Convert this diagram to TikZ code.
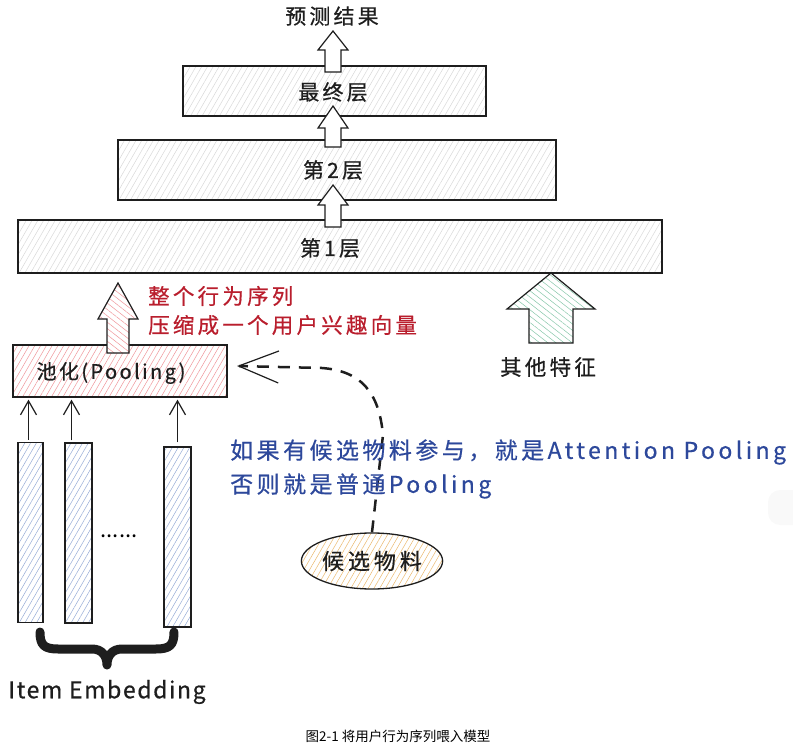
\documentclass[tikz,border=0pt]{standalone}
\usepackage{fontspec}
\newfontfamily\hand[LetterSpace=15,FakeBold=0.6]{Noto Sans CJK SC}
\newfontfamily\handp[LetterSpace=12,FakeBold=0.6]{Noto Sans CJK SC}
\newfontfamily\handl[LetterSpace=7,FakeBold=0.6]{Noto Sans CJK SC}
\newfontfamily\handw[LetterSpace=18,FakeBold=0.6]{Noto Sans CJK SC}
\newfontfamily\capfont{Noto Sans CJK SC}
\usetikzlibrary{patterns.meta,arrows.meta,shapes.geometric}
\definecolor{inkred}{RGB}{185,30,45}
\definecolor{inkblue}{RGB}{45,72,155}
\definecolor{ink}{RGB}{30,30,30}
\definecolor{barhatch}{RGB}{150,172,215}
\definecolor{greenhatch}{RGB}{135,200,170}
\definecolor{orangehatch}{RGB}{235,185,110}
\definecolor{redhatch}{RGB}{240,150,155}
\newcommand\blockup[6]{%
  \draw[#1] #2 -- ++(#5,#4) -- ++({#6-#5},0) -- ++(0,{#3-#4}) -- ++({-2*#6},0) -- ++(0,{#4-#3}) -- ++({#6-#5},0) -- cycle;}
\begin{document}
\begin{tikzpicture}[x=1pt,y=-1pt,
  hatch/.style={preaction={fill=white},pattern={Lines[angle=60,distance=5pt,line width=0.5pt]},pattern color=#1},
  bhatch/.style={preaction={fill=white},pattern={Lines[angle=-38,distance=5pt,line width=0.5pt]},pattern color=#1},
  layerbox/.style={draw=ink,line width=1.3pt,hatch=gray!30,inner sep=0pt,minimum height=#1},
  barbox/.style={draw=ink,line width=1.2pt,hatch=barhatch,inner sep=0pt,minimum width=26pt,minimum height=180pt},
  lbl/.style={font=\hand\fontsize{21}{23}\selectfont,text=ink,inner sep=0pt},
  redlbl/.style={font=\hand\fontsize{21.5}{23}\selectfont,text=inkred,inner sep=0pt,anchor=west},
  bluelbl/.style={font=\hand\fontsize{23}{25}\selectfont,text=inkblue,inner sep=0pt,anchor=west},
  thinarr/.style={draw=ink,line width=1.2pt,-{Straight Barb[length=14pt,width=16pt]}},
  blk/.style={draw=ink,line width=1.2pt,line join=miter}
]
\useasboundingbox (0,0) rectangle (793,746);
% faint artefact at right edge
\fill[gray!5,rounded corners=12pt] (768,490) rectangle (812,525);

% layer boxes
\node[layerbox=50pt,minimum width=303pt] (final) at (334.5,91) {};
\node[layerbox=60pt,minimum width=438pt] (l2) at (337,170) {};
\node[layerbox=53pt,minimum width=644pt] (l1) at (340,246.5) {};
\node[lbl] (tfinal) at (333,92) {最终层};
\node[lbl] (tl2) at (333,170) {第2层};
\node[lbl] (tl1) at (330,248) {第1层};
\node[lbl] (result) at (332,16) {预测结果};

% block arrows between layers
\coordinate (a1) at (333,31);
\coordinate (a2) at (333,106);
\coordinate (a3) at (333,185);
\blockup{blk,fill=white}{(a1)}{41}{19}{15}{8}
\blockup{blk,fill=white}{(a2)}{41}{22}{15}{8}
\blockup{blk,fill=white}{(a3)}{42}{20}{15}{8}

% pooling box
\node[draw=ink,line width=1.3pt,hatch=redhatch,inner sep=0pt,minimum width=214pt,minimum height=52pt] (pool) at (120,371) {};
\node[lbl,font=\handp\fontsize{20}{22}\selectfont] (tpool) at (111,373) {池化(Pooling)};

% red arrow
\coordinate (ar) at (118,283);
\blockup{blk,bhatch=redhatch}{(ar)}{70}{36}{20}{11}
\node[redlbl] (red1) at (148,296) {整个行为序列};
\node[redlbl] (red2) at (148,325) {压缩成一个用户兴趣向量};

% green arrow
\coordinate (ag) at (551,273);
\blockup{blk,bhatch=greenhatch}{(ag)}{70}{36}{44}{22}
\node[lbl,font=\hand\fontsize{21.5}{23}\selectfont] (other) at (548,367) {其他特征};

% embedding bars
\node[barbox,minimum width=25pt] (bar1) at (30.5,532.5) {};
\node[barbox,minimum width=27pt] (bar2) at (78.5,533) {};
\node[barbox,minimum width=27pt] (bar3) at (177.5,537) {};
\draw[thinarr,shorten <=2pt,shorten >=2pt] ([xshift=-2pt]bar1.north) -- ([xshift=-2pt]bar1.north |- pool.south);
\draw[thinarr,shorten <=2pt,shorten >=2pt] ([xshift=-7pt]bar2.north) -- ([xshift=-7pt]bar2.north |- pool.south);
\draw[thinarr,shorten <=4pt,shorten >=2pt] (bar3.north) -- (bar3.north |- pool.south);
\node[font=\capfont\fontsize{22}{24}\selectfont,inner sep=0pt] (dots) at (119,536) {......};

% brace
\draw[ink,line width=9pt,line cap=round,line join=round]
  (40,632) .. controls (40,645) and (44,649) .. (58,649) -- (92,649)
  .. controls (102,649) and (107,656) .. (107,665)
  .. controls (107,656) and (112,649) .. (122,649) -- (156,649)
  .. controls (170,649) and (174,645) .. (174,632);
\node[font=\handl\fontsize{23}{25}\selectfont,text=ink,inner sep=0pt] (itememb) at (107,692) {Item Embedding};

% candidate
\node[ellipse,draw=ink,line width=1.3pt,hatch=orangehatch,minimum width=140pt,minimum height=56pt,inner sep=0pt,font=\handw\fontsize{22}{24}\selectfont,text=ink] (cand) at (372,561) {候选物料};
\coordinate (tipc) at (237,366);
\draw[ink,line width=2.5pt,dash pattern=on 12pt off 9pt,-{Straight Barb[length=40pt,width=32pt,line width=1.2pt]}]
  (cand.north) -- (383,435) .. controls (379,392) and (361,371) .. (322,368) -- (tipc);

% blue explanation
\node[bluelbl] (blue1) at (230,452) {如果有候选物料参与，就是Attention Pooling};
\node[bluelbl] (blue2) at (230,486) {否则就是普通Pooling};

% caption
\node[font=\capfont\fontsize{13.5}{15}\selectfont,text=black,inner sep=0pt] (caption) at (398,736) {图2-1 将用户行为序列喂入模型};
\end{tikzpicture}
\end{document}
